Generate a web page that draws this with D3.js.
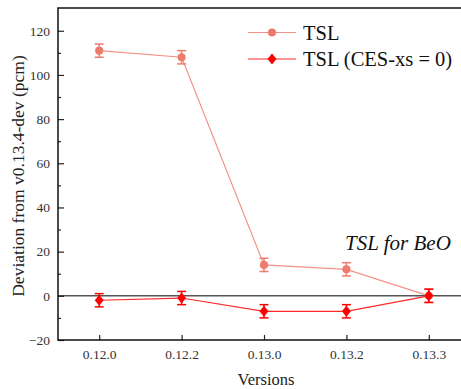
<!DOCTYPE html>
<html>
<head>
<meta charset="utf-8">
<script src="https://cdn.jsdelivr.net/npm/d3@7"></script>
<style>
  body { margin: 0; background: #fff; }
</style>
</head>
<body>
<svg id="chart" width="461" height="389"></svg>
<script>
// data
const versions = ['0.12.0', '0.12.2', '0.13.0', '0.13.2', '0.13.3'];
const tslValues = [111, 108, 14, 12, 0];
const tslErrors = [3, 3, 3, 3, 3];
const cesValues = [-2, -1, -7, -7, 0];
const cesErrors = [3, 3, 3, 3, 3];
const yTicks = [-20, 0, 20, 40, 60, 80, 100, 120];

const serif = "'Liberation Serif'";
const margin = {top: 8, left: 58, bottom: 49};
const width = 412, height = 389 - margin.top - margin.bottom;

const svg = d3.select('#chart');
const chart = svg.append('g')
    .attr('transform', `translate(${margin.left},${margin.top})`);

const xScale = d3.scalePoint()
    .domain(versions)
    .range([0, width])
    .padding(0.5);

const yScale = d3.scaleLinear()
    .domain([-20, 130.3])
    .range([height, 0]);

// zero reference line
chart.append('line')
    .attr('x1', 0).attr('x2', width)
    .attr('y1', yScale(0)).attr('y2', yScale(0))
    .attr('stroke', '#555').attr('stroke-width', 1.5);

// axes, ticks pointing inward
const xAxis = d3.axisBottom(xScale).tickSize(-5).tickPadding(9);
const yAxis = d3.axisLeft(yScale).tickValues(yTicks).tickSize(-6).tickPadding(8);
const yMinor = d3.axisLeft(yScale).tickValues(d3.range(-10, 130, 20)).tickSize(-3).tickFormat('');

chart.append('g')
    .attr('transform', `translate(0,${height})`)
    .call(xAxis)
    .call(g => g.select('.domain').remove());
chart.append('g').call(yAxis).call(g => g.select('.domain').remove());
chart.append('g').call(yMinor).call(g => g.select('.domain').remove());

chart.selectAll('.tick line').attr('stroke', '#222').attr('stroke-width', 1.2);
chart.selectAll('.tick text')
    .attr('fill', '#333')
    .style('font-family', serif)
    .style('font-size', '13.5px');

// frame
chart.append('rect')
    .attr('width', width).attr('height', height)
    .attr('fill', 'none').attr('stroke', '#111').attr('stroke-width', 1.5);

function drawSeries(values, errors, color, lineColor, marker) {
  const pts = versions.map((v, i) => ({v, y: values[i], e: errors[i]}));
  const line = d3.line().x(d => xScale(d.v)).y(d => yScale(d.y));
  chart.append('path')
      .datum(pts)
      .attr('d', line)
      .attr('fill', 'none')
      .attr('stroke', lineColor)
      .attr('stroke-width', 1.2);

  const eb = chart.append('g').selectAll('g').data(pts).join('g')
      .attr('stroke', color).attr('stroke-width', 1.5);
  eb.append('line')
      .attr('x1', d => xScale(d.v)).attr('x2', d => xScale(d.v))
      .attr('y1', d => yScale(d.y - d.e)).attr('y2', d => yScale(d.y + d.e));
  eb.append('line')
      .attr('x1', d => xScale(d.v) - 4.5).attr('x2', d => xScale(d.v) + 4.5)
      .attr('y1', d => yScale(d.y - d.e)).attr('y2', d => yScale(d.y - d.e));
  eb.append('line')
      .attr('x1', d => xScale(d.v) - 4.5).attr('x2', d => xScale(d.v) + 4.5)
      .attr('y1', d => yScale(d.y + d.e)).attr('y2', d => yScale(d.y + d.e));

  chart.append('g').selectAll('path').data(pts).join('path')
      .attr('transform', d => `translate(${xScale(d.v)},${yScale(d.y)})`)
      .attr('d', marker)
      .attr('fill', color);
}

const circleMarker = d3.symbol().type(d3.symbolCircle).size(52)();
const diamondMarker = 'M0,-5.5L4.5,0L0,5.5L-4.5,0Z';

drawSeries(tslValues, tslErrors, '#ef7a6e', '#f29288', circleMarker);
drawSeries(cesValues, cesErrors, '#ff0000', '#ff2a2a', diamondMarker);

// legend
const legend = svg.append('g');
const legendItems = [
  {label: 'TSL', color: '#ef7a6e', line: '#f29288', marker: circleMarker},
  {label: 'TSL (CES-xs = 0)', color: '#ff0000', line: '#ff2a2a', marker: diamondMarker}
];
legendItems.forEach((d, i) => {
  const y = 32.5 + i * 26.5;
  legend.append('line')
      .attr('x1', 248).attr('x2', 296).attr('y1', y).attr('y2', y)
      .attr('stroke', d.line).attr('stroke-width', 1.2);
  legend.append('path')
      .attr('transform', `translate(272,${y})`)
      .attr('d', d.marker).attr('fill', d.color);
  legend.append('text')
      .attr('x', 303).attr('y', y + 7)
      .style('font-family', serif)
      .style('font-size', '20.5px')
      .attr('fill', '#111')
      .text(d.label);
});

// annotation
svg.append('text')
    .attr('x', 345).attr('y', 250)
    .style('font-family', serif)
    .style('font-size', '21px')
    .style('font-style', 'italic')
    .attr('fill', '#111')
    .text('TSL for BeO');

// axis titles
svg.append('text')
    .attr('x', 266).attr('y', 385)
    .attr('text-anchor', 'middle')
    .style('font-family', serif)
    .style('font-size', '16.5px')
    .attr('fill', '#222')
    .text('Versions');

svg.append('text')
    .attr('transform', 'translate(23.5,176) rotate(-90)')
    .attr('text-anchor', 'middle')
    .style('font-family', serif)
    .style('font-size', '17.5px')
    .attr('fill', '#222')
    .text('Deviation from v0.13.4-dev (pcm)');
</script>
</body>
</html>
